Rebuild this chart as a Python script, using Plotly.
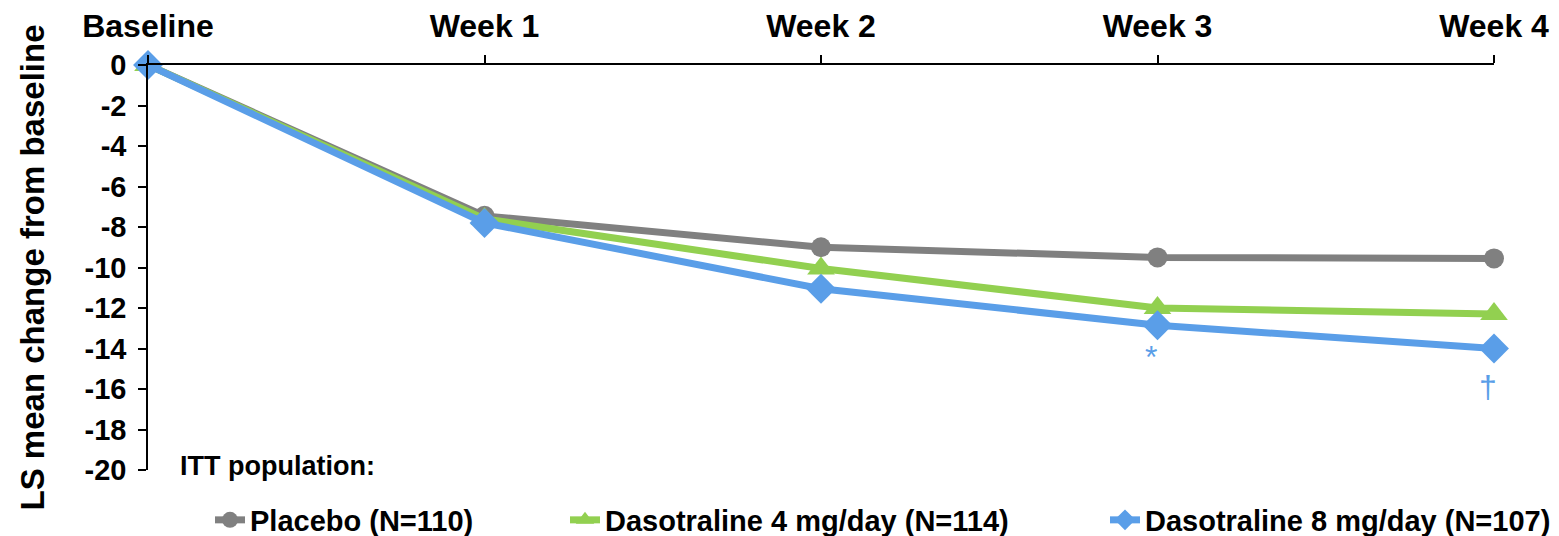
import plotly.graph_objects as go

timepoints = ["Baseline", "Week 1", "Week 2", "Week 3", "Week 4"]
x_pos = [0, 1, 2, 3, 4]
placebo = [0, -7.45, -9.0, -9.5, -9.55]
daso4 = [0, -7.6, -10.05, -12.0, -12.3]
daso8 = [0, -7.8, -11.05, -12.85, -14.0]
series_names = ["Placebo (N=110)", "Dasotraline 4 mg/day (N=114)", "Dasotraline 8 mg/day (N=107)"]
y_ticks = [0, -2, -4, -6, -8, -10, -12, -14, -16, -18, -20]
y_ticktext = ["0" if v == 0 else "-" + str(abs(v)) for v in y_ticks]

colors = ["#808080", "#92D050", "#5A9EE8"]
symbols = ["circle", "triangle-up", "diamond"]
sizes = [20, 24, 23]
legends = ["legend", "legend2", "legend3"]

fig = go.Figure()
for vals, name, col, sym, sz, lg in zip([placebo, daso4, daso8], series_names, colors, symbols, sizes, legends):
    fig.add_trace(go.Scatter(
        x=x_pos, y=vals, name=name, mode="lines+markers",
        line=dict(color=col, width=7),
        marker=dict(symbol=sym, size=sz, color=col),
        cliponaxis=False, legend=lg,
    ))

FAM = "Arial, Liberation Sans, sans-serif"
def fb(size):
    return dict(family=FAM, size=size, color="black", weight="bold")

# significance markers
fig.add_annotation(x=3, y=daso8[3], text="*", showarrow=False, xshift=-7, yshift=-32,
                   font=dict(family=FAM, size=32, color=colors[2]))
fig.add_annotation(x=4, y=daso8[4], text="†", showarrow=False, xshift=-6, yshift=-38,
                   font=dict(family=FAM, size=32, color=colors[2]))

fig.add_annotation(xref="paper", yref="paper", x=(178 - 148) / 1346, y=(470 - 466) / 405,
                   xanchor="left", yanchor="middle", text="ITT population:", showarrow=False,
                   font=fb(27))

text_x = [255, 610, 1150]
common_leg = dict(orientation="h", xref="container", yref="container", yanchor="middle",
                  xanchor="left", font=fb(29), bgcolor="rgba(0,0,0,0)", itemwidth=30)
fig.update_layout(
    legend=dict(x=(text_x[0] - 45) / 1559, y=1 - 520 / 536, **common_leg),
    legend2=dict(x=(text_x[1] - 45) / 1559, y=1 - 520 / 536, **common_leg),
    legend3=dict(x=(text_x[2] - 45) / 1559, y=1 - 520 / 536, **common_leg),
)

fig.update_layout(
    width=1559, height=536,
    margin=dict(l=148, r=65, t=65, b=66),
    paper_bgcolor="white", plot_bgcolor="white",
    xaxis=dict(range=[0, 4], side="top", tickvals=x_pos, ticktext=timepoints,
               ticks="outside", ticklen=8, tickcolor="black", tickwidth=1.5,
               showline=True, linecolor="black", linewidth=1.5, showgrid=False,
               zeroline=False, tickfont=fb(32), ticklabelstandoff=5, automargin=False),
    yaxis=dict(range=[-20, 0], tickvals=y_ticks, ticktext=y_ticktext,
               ticks="outside", ticklen=8, tickcolor="black", tickwidth=1.5,
               showline=True, linecolor="black", linewidth=1.5, showgrid=False,
               zeroline=False, tickfont=fb(29), ticklabelstandoff=6, automargin=False,
               title=dict(text="LS mean change from baseline", font=fb(33), standoff=30)),
    showlegend=True,
)

fig.write_html("out.html")
